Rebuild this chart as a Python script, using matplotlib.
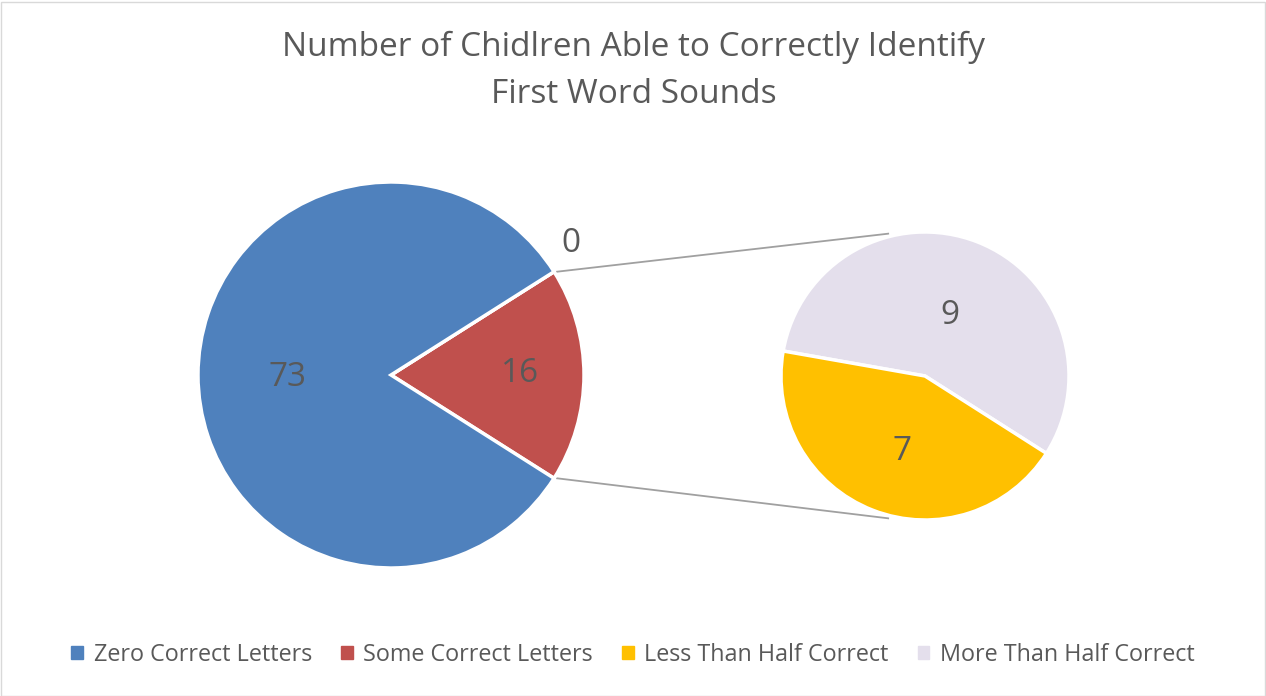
import numpy as np
import matplotlib.pyplot as plt
from matplotlib.patches import Rectangle

plt.rcParams['font.family'] = ['Open Sans', 'DejaVu Sans']

title = "Number of Chidlren Able to Correctly Identify\nFirst Word Sounds"
categories = ['Zero Correct Letters', 'Some Correct Letters',
              'Less Than Half Correct', 'More Than Half Correct']
colors = ['#4F81BD', '#C0504D', '#FFC000', '#E4DFEC']

# main pie: other (split out), some (zero), zero correct
main_values = [16, 0, 73]
main_labels = ['16', '0', '73']
# secondary pie: more than half, less than half
sub_values = [9, 7]
sub_labels = ['9', '7']

text_color = '#595959'

fig = plt.figure(figsize=(12.66, 6.96), dpi=100)
ax = fig.add_axes([0, 0, 1, 1])

H = 696
main_c = (391, H - 375)
main_r = 193
sub_c = (925, H - 376)
sub_r = 144

start_main = -main_values[0] / sum(main_values) * 180
ax.pie(main_values, colors=[colors[1], colors[1], colors[0]],
       startangle=start_main, counterclock=True,
       center=main_c, radius=main_r, frame=True,
       wedgeprops=dict(edgecolor='white', linewidth=2.5))

sub_start = -32.5
ax.pie(sub_values, colors=[colors[3], colors[2]], startangle=sub_start,
       counterclock=True, center=sub_c, radius=sub_r, frame=True,
       wedgeprops=dict(edgecolor='white', linewidth=2.5))
ax.set_xlim(0, 1266)
ax.set_ylim(0, 696)
ax.set_aspect('equal')
ax.axis('off')

# connector lines
a = np.deg2rad(-start_main)
for s in (1, -1):
    x0 = main_c[0] + main_r * np.cos(a) + 3
    y0 = main_c[1] + s * main_r * np.sin(a)
    b = np.deg2rad(104.5)
    x1 = sub_c[0] + (sub_r + 3) * np.cos(b)
    y1 = sub_c[1] + s * (sub_r + 3) * np.sin(b)
    ax.plot([x0, x1], [y0, y1], color='#A0A0A0', lw=1.3, zorder=0)

# data labels
fs = 24
ax.text(288, H - 378, main_labels[2], fontsize=fs, color=text_color, ha='center', va='center')
ax.text(520, H - 374, main_labels[0], fontsize=fs, color=text_color, ha='center', va='center')
ax.text(571, H - 244, main_labels[1], fontsize=fs, color=text_color, ha='center', va='center')
ax.text(950, H - 316, sub_labels[0], fontsize=fs, color=text_color, ha='center', va='center')
ax.text(902, H - 451, sub_labels[1], fontsize=fs, color=text_color, ha='center', va='center')

ax.text(634, H - 71, title, fontsize=24, color=text_color, ha='center', va='center',
        linespacing=1.55)

# legend
handles = [Rectangle((0, 0), 1, 1, color=c) for c in colors]
leg = fig.legend(handles, categories, loc='center', bbox_to_anchor=(0.5, 1 - 655 / H),
                 ncol=4, frameon=False, fontsize=16.8, handlelength=0.5, handleheight=0.5,
                 handletextpad=0.45, columnspacing=1.25)
for t in leg.get_texts():
    t.set_color(text_color)

# chart border
fig.patches.append(Rectangle((0.5, 0.5), 1264, 694, transform=None, fill=False,
                             edgecolor='#D9D9D9', lw=1))

fig.savefig('out.png', dpi=100)
